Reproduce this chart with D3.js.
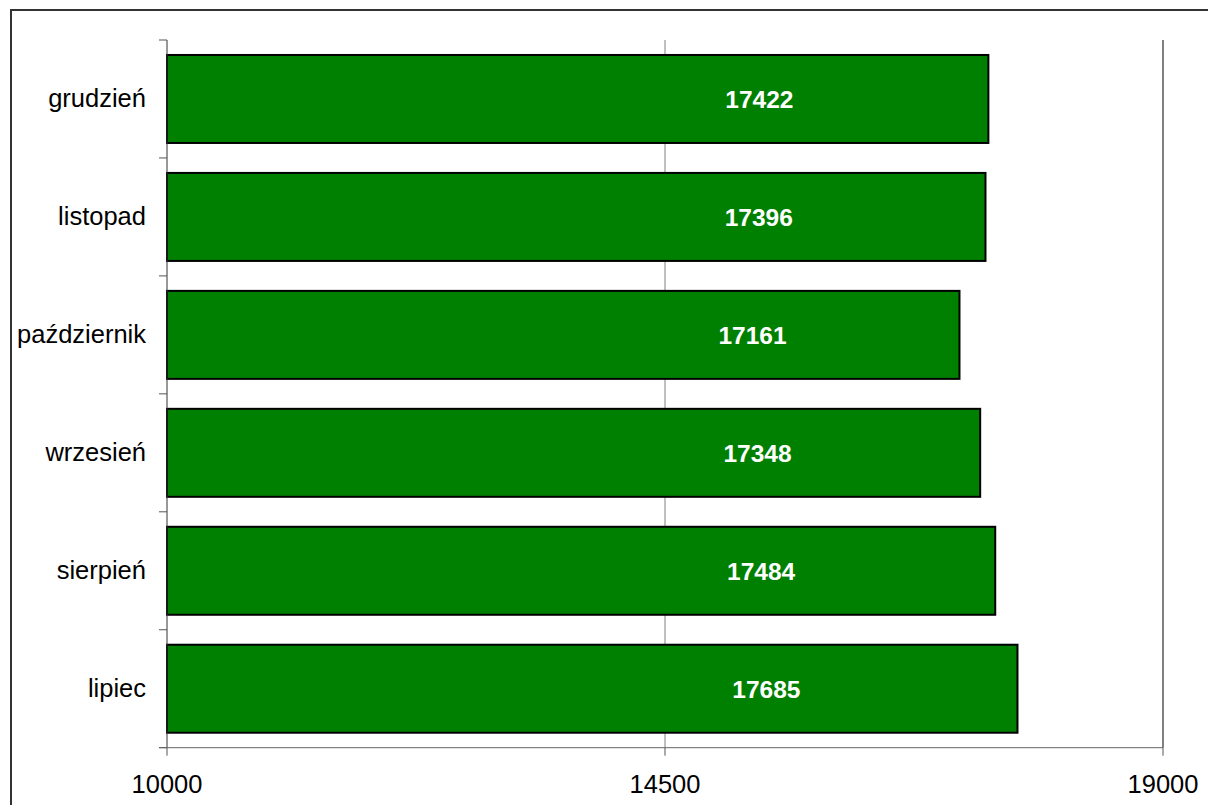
<!DOCTYPE html>
<html><head><meta charset="utf-8">
<script src="https://cdn.jsdelivr.net/npm/d3@7/dist/d3.min.js"></script>
<style>html,body{margin:0;padding:0;background:#fff;overflow:hidden}</style>
</head><body>
<script>
const categories = ["grudzień","listopad","październik","wrzesień","sierpień","lipiec"];
const values = [17422,17396,17161,17348,17484,17685];
const xTicks = [10000,14500,19000];

const W = 1208, H = 805;
const svg = d3.select("body").append("svg").attr("width", W).attr("height", H);
svg.append("rect").attr("x", 11).attr("y", 10).attr("width", 1210).attr("height", 810)
  .attr("fill", "none").attr("stroke", "#333").attr("stroke-width", 2);

const pLeft = 167, pRight = 1163, pTop = 40, pBottom = 747.7;
const x = d3.scaleLinear().domain([10000, 19000]).range([pLeft, pRight]);
const y = d3.scaleBand().domain(categories).range([pTop, pBottom]).padding(0);
const barH = y.bandwidth() * 0.746;
const labelX = d => d3.interpolateNumber(x(14700), x(d))(0.24);

// gridlines
svg.append("g").selectAll("line").data(xTicks.slice(1)).join("line")
  .attr("x1", d => x(d)).attr("x2", d => x(d)).attr("y1", pTop).attr("y2", pBottom)
  .attr("stroke", "#808080").attr("stroke-width", (d,i) => i === xTicks.length - 2 ? 2 : 1);

// bars
svg.append("g").selectAll("rect").data(values).join("rect")
  .attr("x", x(10000))
  .attr("y", (d,i) => y(categories[i]) + (y.bandwidth() - barH) / 2)
  .attr("width", d => x(d) - x(10000))
  .attr("height", barH)
  .attr("fill", "#008000").attr("stroke", "#000").attr("stroke-width", 2);

// value labels
svg.append("g").selectAll("text").data(values).join("text")
  .attr("x", d => labelX(d))
  .attr("y", (d,i) => y(categories[i]) + y.bandwidth() / 2)
  .attr("dy", "0.38em")
  .attr("text-anchor", "middle")
  .attr("font-family", "Liberation Sans, Arial, sans-serif")
  .attr("font-weight", "bold").attr("font-size", 24.5).attr("fill", "#fff")
  .text(d => d);

// y axis
const yAxis = svg.append("g");
yAxis.append("line").attr("x1", pLeft).attr("x2", pLeft).attr("y1", pTop).attr("y2", pBottom)
  .attr("stroke", "#333").attr("stroke-width", 1);
const yTickPos = categories.map(c => y(c)).concat([pBottom]);
yAxis.selectAll("line.t").data(yTickPos).join("line").attr("class", "t")
  .attr("x1", pLeft - 8).attr("x2", pLeft).attr("y1", d => d).attr("y2", d => d)
  .attr("stroke", "#555").attr("stroke-width", 1);
yAxis.selectAll("text").data(categories).join("text")
  .attr("x", 146).attr("y", d => y(d) + y.bandwidth() / 2).attr("dy", "0.33em")
  .attr("text-anchor", "end")
  .attr("font-family", "Liberation Sans, Arial, sans-serif").attr("font-size", 25.5).attr("fill", "#000")
  .text(d => d);

// x axis
const xAxis = svg.append("g");
xAxis.append("line").attr("x1", pLeft - 8).attr("x2", pRight).attr("y1", pBottom).attr("y2", pBottom)
  .attr("stroke", "#666").attr("stroke-width", 1);
xAxis.selectAll("line.t").data(xTicks).join("line").attr("class", "t")
  .attr("x1", d => x(d)).attr("x2", d => x(d)).attr("y1", pBottom).attr("y2", pBottom + 8)
  .attr("stroke", "#555").attr("stroke-width", 1);
xAxis.selectAll("text").data(xTicks).join("text")
  .attr("x", d => x(d)).attr("y", 793)
  .attr("text-anchor", "middle")
  .attr("font-family", "Liberation Sans, Arial, sans-serif").attr("font-size", 25.5).attr("fill", "#000")
  .text(d => d);
</script>
</body></html>
